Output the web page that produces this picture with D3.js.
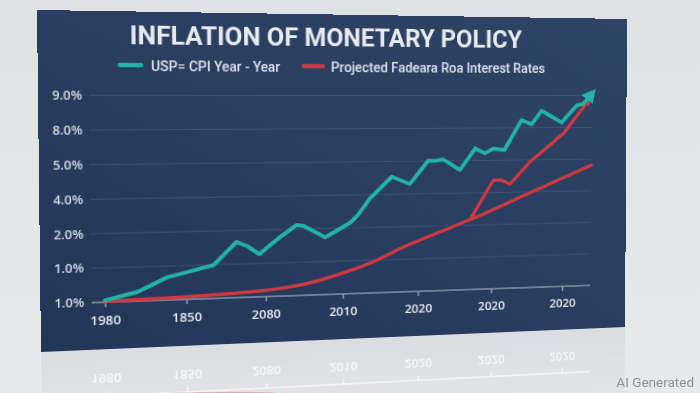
<!DOCTYPE html>
<html>
<head>
<meta charset="utf-8">
<script src="https://cdn.jsdelivr.net/npm/d3@7"></script>
<style>
    html, body { margin: 0; padding: 0; }
    body {
        width: 700px; height: 393px; overflow: hidden; position: relative;
        background: linear-gradient(to bottom, #dfe1e4 0%, #e3e5e7 55%, #e8e9eb 100%);
        font-family: Roboto, "Open Sans", sans-serif;
    }
    #panel { position: absolute; left: 0; top: 0; transform-origin: 0 0; }
    #overlay { position: absolute; left: 0; top: 0; }
</style>
</head>
<body>
<div id="panel"></div>
<svg id="overlay" width="700" height="393"></svg>
<script>
const title = 'INFLATION OF MONETARY POLICY';
const legendLabels = ['USP= CPI Year - Year', 'Projected Fadeara Roa Interest Rates'];
const xLabels = ['1980', '1850', '2080', '2010', '2020', '2020', '2020'];
const yLabels = ['1.0%', '1.0%', '2.0%', '4.0%', '5.0%', '8.0%', '9.0%'];

// values are in axis steps: x = tick index, y = gridline index (0 = bottom "1.0%")
const cpiX = [0, 0.41, 0.76, 1.0, 1.21, 1.34, 1.63, 1.78, 1.92, 2.19, 2.40, 2.49, 2.77, 3.01, 3.10, 3.20, 3.36, 3.65, 3.89, 4.14, 4.24, 4.34, 4.57, 4.78, 4.91, 5.03, 5.18, 5.42, 5.56, 5.70, 5.98, 6.20, 6.29, 6.35];
const cpiY = [0.05, 0.28, 0.67, 0.80, 0.92, 0.99, 1.66, 1.51, 1.28, 1.78, 2.12, 2.09, 1.73, 2.04, 2.16, 2.39, 2.88, 3.53, 3.30, 4.01, 4.00, 4.04, 3.71, 4.37, 4.22, 4.36, 4.31, 5.24, 5.11, 5.53, 5.16, 5.70, 5.74, 5.90];
const fedX = [0, 0.75, 1.58, 2.05, 2.48, 2.92, 3.36, 3.80, 4.25, 4.71, 5.56, 6.41];
const fedY = [0.02, 0.06, 0.13, 0.20, 0.33, 0.58, 0.91, 1.37, 1.77, 2.17, 2.99, 3.81];
const projX = [4.71, 5.03, 5.14, 5.26, 5.54, 6.01, 6.33];
const projY = [2.17, 3.38, 3.38, 3.25, 3.94, 4.82, 5.75];

const TEAL = '#22b3a9';
const RED = '#cf3a3f';

// flat panel size, and where its corners land in the photo
const W = 590, H = 342;
const corners = [[37, 10], [627, 19], [625, 327], [41, 352]];
const plot = { left: 47, right: 551, top: 84.5, bottom: 294 };

// projective map of the W x H rectangle onto the quad, as a css matrix3d
function homography(q) {
    const [[x0, y0], [x1, y1], [x2, y2], [x3, y3]] = q;
    const dx1 = x1 - x2, dx2 = x3 - x2, dx3 = x0 - x1 + x2 - x3;
    const dy1 = y1 - y2, dy2 = y3 - y2, dy3 = y0 - y1 + y2 - y3;
    const det = dx1 * dy2 - dy1 * dx2;
    const g = (dx3 * dy2 - dy3 * dx2) / det;
    const h = (dx1 * dy3 - dy1 * dx3) / det;
    const a = x1 - x0 + g * x1, b = x3 - x0 + h * x3;
    const d = y1 - y0 + g * y1, e = y3 - y0 + h * y3;
    return [a / W, d / W, 0, g / W, b / H, e / H, 0, h / H, 0, 0, 1, 0, x0, y0, 0, 1];
}

d3.select('#panel').style('transform', `matrix3d(${homography(corners).join(',')})`);

const svg = d3.select('#panel').append('svg')
    .attr('width', W)
    .attr('height', 2 * H)
    .style('display', 'block');

const defs = svg.append('defs');

const bg = defs.append('linearGradient').attr('id', 'panelBg')
    .attr('x1', 1).attr('y1', 0).attr('x2', 0).attr('y2', 1);
bg.append('stop').attr('offset', 0).attr('stop-color', '#2f4568');
bg.append('stop').attr('offset', 1).attr('stop-color', '#223659');

const fade = defs.append('linearGradient').attr('id', 'fade')
    .attr('x1', 0).attr('y1', 0).attr('x2', 0).attr('y2', 1);
fade.append('stop').attr('offset', 0).attr('stop-color', '#fff').attr('stop-opacity', 0.9);
fade.append('stop').attr('offset', 0.3).attr('stop-color', '#fff').attr('stop-opacity', 0.25);
fade.append('stop').attr('offset', 1).attr('stop-color', '#fff').attr('stop-opacity', 0);
defs.append('mask').attr('id', 'reflectMask')
    .append('rect').attr('x', 0).attr('y', H).attr('width', W).attr('height', H)
    .attr('fill', 'url(#fade)');

function arrow(id, color, len, half) {
    defs.append('marker')
        .attr('id', id)
        .attr('markerUnits', 'userSpaceOnUse')
        .attr('viewBox', `0 ${-half} ${len} ${2 * half}`)
        .attr('markerWidth', len).attr('markerHeight', 2 * half)
        .attr('refX', 1).attr('refY', 0)
        .attr('orient', 'auto')
        .append('path')
        .attr('d', `M0,${-half}L${len},0L0,${half}Z`)
        .attr('fill', color);
}
arrow('tealHead', TEAL, 15, 8);
arrow('redHead', RED, 9, 4.5);

const x = d3.scaleLinear().domain([0, 6]).range([59.3, 520.1]);
const y = d3.scaleLinear().domain([0, 6]).range([plot.bottom, plot.top]);

const zip = (xs, ys) => xs.map((v, i) => [v, ys[i]]);
const cpi = zip(cpiX, cpiY);
const fed = zip(fedX, fedY);
const proj = zip(projX, projY);

const straight = d3.line().x(d => x(d[0])).y(d => y(d[1]));
const smooth = d3.line().x(d => x(d[0])).y(d => y(d[1])).curve(d3.curveMonotoneX);

function drawPlot(g, reflected) {
    if (!reflected) {
        g.append('g').selectAll('line')
            .data(d3.range(1, 7))
            .join('line')
            .attr('x1', plot.left).attr('x2', plot.right)
            .attr('y1', d => y(d)).attr('y2', d => y(d))
            .attr('stroke', '#3d5577')
            .attr('stroke-width', 1);
    }

    const axisColor = reflected ? '#ffffff' : '#8a99ae';

    g.append('line')
        .attr('x1', plot.left).attr('x2', plot.right)
        .attr('y1', y(0)).attr('y2', y(0))
        .attr('stroke', axisColor)
        .attr('stroke-width', 1.5);

    const xAxis = g.append('g')
        .attr('transform', `translate(0,${y(0)})`)
        .call(d3.axisBottom(x)
            .tickValues(d3.range(7))
            .tickFormat(i => xLabels[i])
            .tickSize(5)
            .tickPadding(9));
    xAxis.select('.domain').remove();
    xAxis.selectAll('line').attr('stroke', axisColor).attr('stroke-width', 1.5);
    xAxis.selectAll('text')
        .attr('fill', reflected ? '#ffffff' : '#e8ebf0')
        .attr('font-family', '"Open Sans", Roboto, sans-serif')
        .attr('font-weight', 600)
        .attr('font-size', 12.5);

    g.append('path')
        .datum(fed)
        .attr('d', smooth)
        .attr('fill', 'none')
        .attr('stroke', RED)
        .attr('stroke-width', 3.5)
        .attr('stroke-linecap', 'round');

    if (reflected) return;

    g.append('path')
        .datum(proj)
        .attr('d', straight)
        .attr('fill', 'none')
        .attr('stroke', RED)
        .attr('stroke-width', 3.5)
        .attr('stroke-linejoin', 'round')
        .attr('marker-end', 'url(#redHead)');

    g.append('path')
        .datum(cpi)
        .attr('d', straight)
        .attr('fill', 'none')
        .attr('stroke', TEAL)
        .attr('stroke-width', 4)
        .attr('stroke-linejoin', 'round')
        .attr('stroke-linecap', 'round')
        .attr('marker-end', 'url(#tealHead)');

    const yAxis = g.append('g')
        .attr('transform', `translate(${plot.left},0)`)
        .call(d3.axisLeft(y)
            .tickValues(d3.range(7))
            .tickFormat(i => yLabels[i])
            .tickSize(0)
            .tickPadding(7));
    yAxis.select('.domain').remove();
    yAxis.selectAll('text')
        .attr('fill', '#d8dde5')
        .attr('font-family', '"Open Sans", Roboto, sans-serif')
        .attr('font-weight', 600)
        .attr('font-size', 12);
}

// Panel
svg.append('rect')
    .attr('width', W).attr('height', H)
    .attr('fill', 'url(#panelBg)');

svg.append('text')
    .attr('x', 280).attr('y', 33.5)
    .attr('text-anchor', 'middle')
    .attr('font-family', 'Roboto, sans-serif')
    .attr('font-weight', 700)
    .attr('font-size', 26)
    .attr('fill', '#e8ebef')
    .attr('textLength', 391)
    .attr('lengthAdjust', 'spacingAndGlyphs')
    .text(title);

// Legend
const legend = svg.append('g').attr('font-family', 'Roboto, sans-serif').attr('font-size', 15.5).attr('font-weight', 500);
const legendItems = [
    { sx: 73.5, ex: 96.7, tx: 104.2, tw: 123.7, color: TEAL },
    { sx: 249.5, ex: 272.3, tx: 278.3, tw: 222.2, color: RED }
];
legendItems.forEach((it, i) => {
    legend.append('line')
        .attr('x1', it.sx + 2).attr('x2', it.ex - 2)
        .attr('y1', 54).attr('y2', 54)
        .attr('stroke', it.color)
        .attr('stroke-width', 4.5)
        .attr('stroke-linecap', 'round');
    legend.append('text')
        .attr('x', it.tx).attr('y', 59.6)
        .attr('fill', '#dfe4eb')
        .attr('textLength', it.tw)
        .attr('lengthAdjust', 'spacingAndGlyphs')
        .text(legendLabels[i]);
});

drawPlot(svg.append('g'), false);

// Reflection on the floor below the panel
const reflection = svg.append('g').attr('mask', 'url(#reflectMask)');
const mirrored = reflection.append('g').attr('transform', `translate(0,${2 * H}) scale(1,-1)`);
mirrored.append('rect')
    .attr('width', W).attr('height', H)
    .attr('fill', '#2a3d5c')
    .attr('opacity', 0.07);
drawPlot(mirrored, true);

// Watermark
d3.select('#overlay').append('text')
    .attr('x', 694).attr('y', 387)
    .attr('text-anchor', 'end')
    .attr('font-family', 'Roboto, sans-serif')
    .attr('font-size', 13.5)
    .attr('fill', '#8d9095')
    .text('AI Generated');
</script>
</body>
</html>
